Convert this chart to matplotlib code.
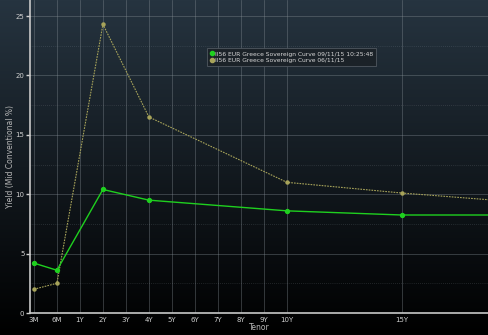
import matplotlib.pyplot as plt
from matplotlib.lines import Line2D
import numpy as np

# --- dados ---
tenores = ['3M', '6M', '1Y', '2Y', '3Y', '4Y', '5Y', '6Y', '7Y', '8Y', '9Y', '10Y', '15Y']
pos_tenor = [0, 1, 2, 3, 4, 5, 6, 7, 8, 9, 10, 11, 16]

pos_curva = [0, 1, 3, 5, 11, 16, 21]
curva_hoje = [4.2, 3.6, 10.4, 9.5, 8.6, 8.25, 8.25]
curva_antiga = [2.0, 2.5, 24.3, 16.5, 11.0, 10.1, 9.35]

rotulo_hoje = 'II56 EUR Greece Sovereign Curve 09/11/15 10:25:48'
rotulo_antiga = 'II56 EUR Greece Sovereign Curve 06/11/15'

fig = plt.figure(figsize=(4.88, 3.35), dpi=100)

# fundo em degrade
fundo = fig.add_axes([0, 0, 1, 1], zorder=-1)
grad = np.linspace(1, 0, 256).reshape(-1, 1)
topo = np.array([0x26, 0x34, 0x40]) / 255
img = grad[..., None] * topo[None, None, :]
fundo.imshow(img, aspect='auto', extent=[0, 1, 0, 1])
fundo.axis('off')

ax = fig.add_axes([30 / 488, 22 / 335, 1 - 30 / 488, 1 - 22 / 335])
ax.set_facecolor('none')

ax.plot(pos_curva, curva_antiga, color='#a8a45a', lw=0.8, ls=(0, (1.5, 1)),
        marker='o', ms=2.2, label=rotulo_antiga, zorder=3)
ax.plot(pos_curva, curva_hoje, color='#1fd01f', lw=1.0,
        marker='o', ms=2.8, label=rotulo_hoje, zorder=4)

ax.set_xlim(-0.17, 19.74)
ax.set_ylim(0, 26.35)
ax.set_xticks(pos_tenor)
ax.set_xticklabels(tenores)
ax.set_yticks([0, 5, 10, 15, 20, 25])
ax.set_yticks([2.5, 7.5, 12.5, 17.5, 22.5], minor=True)

ax.grid(True, which='major', color='#8a939a', lw=0.5, alpha=0.5)
ax.grid(True, which='minor', axis='y', color='#8a939a', lw=0.5, alpha=0.4, ls=(0, (1, 2)))
ax.tick_params(axis='y', which='minor', length=0)
ax.tick_params(colors='#d0d0d0', labelsize=5, length=3, width=1, pad=1)
ax.tick_params(axis='x', length=0, pad=3)

for lado in ['top', 'right']:
    ax.spines[lado].set_visible(False)
for lado in ['left', 'bottom']:
    ax.spines[lado].set_color('#c8c8c8')
    ax.spines[lado].set_linewidth(1.2)

ax.set_ylabel('Yield (Mid Conventional %)', color='#b8b8b8', fontsize=5.5, labelpad=0)
ax.set_xlabel('Tenor', color='#b8b8b8', fontsize=5.5, labelpad=0)

h1 = Line2D([], [], color='#1fd01f', marker='o', ls='none', ms=3)
h2 = Line2D([], [], color='#a8a45a', marker='o', ls='none', ms=3)
leg = ax.legend([h1, h2], [rotulo_hoje, rotulo_antiga], loc='upper left',
                bbox_to_anchor=(0.38, 0.855), fontsize=4.3, frameon=True,
                facecolor='#1b2228', edgecolor='#505860', framealpha=1,
                labelcolor='#d8d8d8', handlelength=0.6, handletextpad=0.3,
                borderpad=0.5, labelspacing=0.2, fancybox=False)
leg.get_frame().set_linewidth(0.6)

fig.savefig('out.png', dpi=100)
